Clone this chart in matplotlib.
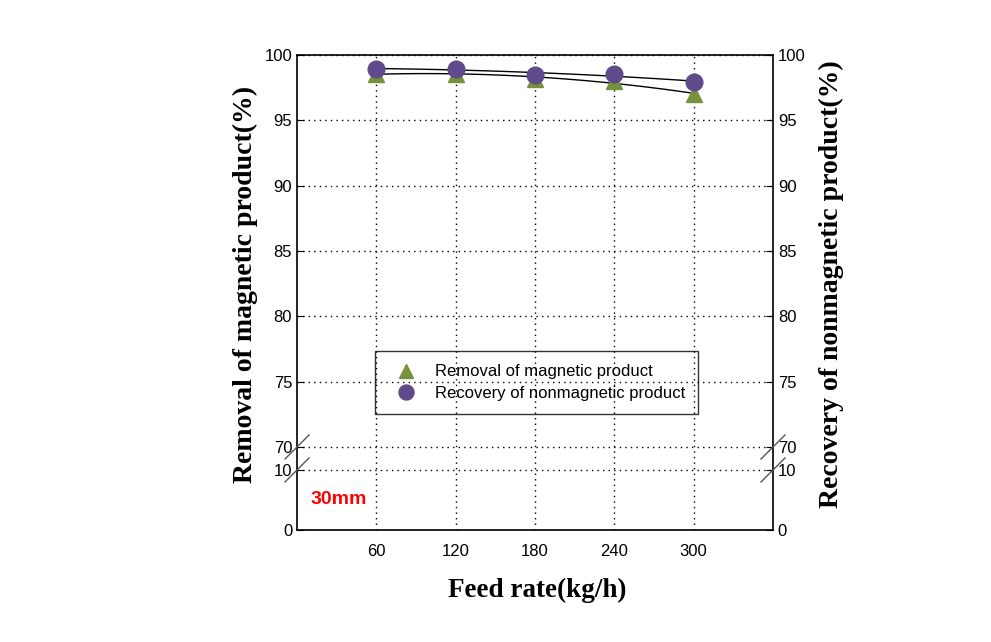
import matplotlib.pyplot as plt
import numpy as np

feed = [60, 120, 180, 240, 300]
removal = [98.55, 98.55, 98.2, 98.0, 97.0]
recovery = [98.95, 98.95, 98.45, 98.55, 97.95]
yticks = [0, 10, 70, 75, 80, 85, 90, 95, 100]


# broken y axis: 0-10 squeezed, 10-70 gap, 70-100 stretched
def fwd(y):
    y = np.asarray(y, dtype=float)
    return np.where(y <= 10, y * 6.0,
                    np.where(y <= 70, 60 + (y - 10) * 23 / 60, 83 + (y - 70) * 392 / 30))


def inv(v):
    v = np.asarray(v, dtype=float)
    return np.where(v <= 60, v / 6.0,
                    np.where(v <= 83, 10 + (v - 60) * 60 / 23, 70 + (v - 83) * 30 / 392))


fig = plt.figure(figsize=(9.91, 6.42), dpi=100)
ax = fig.add_axes([297 / 991, 112 / 642, 476 / 991, 475 / 642])
ax.set_yscale('function', functions=(fwd, inv))
ax.set_xlim(0, 360)
ax.set_ylim(0, 100)

xs = np.linspace(60, 300, 100)
ax.plot(xs, np.polyval(np.polyfit(feed, removal, 2), xs), color='black', lw=1, zorder=3)
ax.plot(xs, np.polyval(np.polyfit(feed, recovery, 2), xs), color='black', lw=1, zorder=3)
ax.plot(feed, removal, '^', color='#76923c', ms=11, ls='none', zorder=4,
        label='Removal of magnetic product')
ax.plot(feed, recovery, 'o', color='#5f4b8b', ms=12, ls='none', zorder=5,
        label='Recovery of nonmagnetic product')

ax.set_xticks(feed)
ax.set_yticks(yticks)
ax.set_yticklabels([str(t) for t in yticks])
ax.grid(True, color='black', ls=(0, (1, 3)), lw=1)
ax.tick_params(axis='y', direction='in', length=5, labelsize=12, right=True, labelright=True)
ax.tick_params(axis='x', length=0, labelsize=12, pad=10)
for s in ax.spines.values():
    s.set_linewidth(1.2)
for lab in ax.get_xticklabels() + ax.get_yticklabels():
    lab.set_fontfamily('Liberation Sans')

# slash marks at the break
for yv in [10, 70]:
    yp = ax.transData.transform((0, yv))[1]
    for xp in [297, 773]:
        fig.add_artist(plt.Line2D([(xp - 12) / 991, (xp + 12) / 991],
                                  [(yp - 12) / 642, (yp + 12) / 642],
                                  color='#555555', lw=1))

ax.text(0.028, 30 / 475, '30mm', transform=ax.transAxes, color='red', va='center',
        fontsize=14, fontweight='bold', family='Liberation Sans')

leg = ax.legend(loc='upper left', bbox_to_anchor=(78 / 476, 179 / 475),
                frameon=True, facecolor='none', edgecolor='black', fancybox=False,
                prop={'family': 'Liberation Sans', 'size': 12}, handletextpad=0.68,
                handlelength=2.1, borderpad=0.8, labelspacing=0.38, borderaxespad=0,
                markerscale=0.9)
leg.get_frame().set_linewidth(1)

lab_font = {'family': 'Liberation Serif', 'weight': 'bold', 'size': 20}
fig.text(537 / 991, 1 - 590 / 642, 'Feed rate(kg/h)', ha='center', va='center',
         family='Liberation Serif', weight='bold', size=19.5)
fig.text(245 / 991, 1 - 284 / 642, 'Removal of magnetic product(%)', rotation=90,
         ha='center', va='center', **lab_font)
fig.text(831 / 991, 1 - 284 / 642, 'Recovery of nonmagnetic product(%)', rotation=90,
         ha='center', va='center', **lab_font)

fig.savefig('out.png')
